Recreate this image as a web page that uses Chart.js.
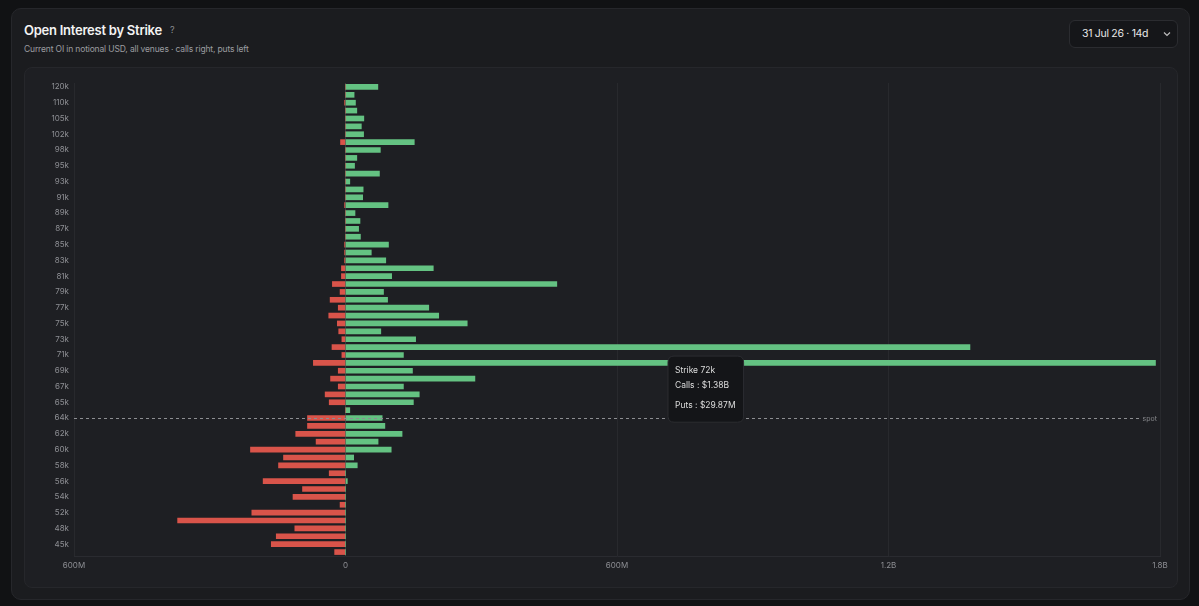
<!DOCTYPE html>
<html>
<head>
<meta charset="utf-8">
<script src="https://cdn.jsdelivr.net/npm/chart.js@4.4.1/dist/chart.umd.min.js"></script>
<style>
  html, body { margin: 0; padding: 0; }
  body {
    width: 1199px; height: 606px; overflow: hidden;
    background: #111214; font-family: Inter, "Noto Sans", sans-serif;
    position: relative;
  }
  .card {
    position: absolute; left: 11px; top: 8px; width: 1177px; height: 590px;
    background: #1b1c1f; border: 1px solid #26272b; border-radius: 10px;
  }
  .title {
    position: absolute; left: 24px; top: 21px; font-size: 13px; font-weight: 600;
    color: #f3f3f3; letter-spacing: -0.25px; line-height: 18px;
  }
  .help {
    position: absolute; left: 170px; top: 24px; font-size: 9px; color: #8a8b8f; line-height: 12px;
  }
  .subtitle {
    position: absolute; left: 24px; top: 43px; font-size: 8.5px; color: #9b9ca0; line-height: 12px;
    letter-spacing: -0.15px;
  }
  .select {
    position: absolute; left: 1069px; top: 20px; width: 107px; height: 26px;
    background: #151619; border: 1px solid #2b2c30; border-radius: 6px;
    color: #e8e8e8; font-size: 10.5px; line-height: 26px; letter-spacing: -0.3px;
  }
  .select span { position: absolute; left: 12px; top: 0; }
  .select svg { position: absolute; right: 6px; top: 10px; }
  .panel {
    position: absolute; left: 24px; top: 67px; width: 1152px; height: 519px;
    background: #1e1f23; border: 1px solid #26272b; border-radius: 8px;
  }
  #chart { position: absolute; left: 24px; top: 67px; }
</style>
</head>
<body>
<div class="card"></div>
<div class="title">Open Interest by Strike</div>
<div class="help">?</div>
<div class="subtitle">Current OI in notional USD, all venues · calls right, puts left</div>
<div class="select"><span>31 Jul 26 · 14d</span>
  <svg width="8" height="6" viewBox="0 0 8 6"><path d="M1 1.5 L4 4.5 L7 1.5" fill="none" stroke="#bdbdbd" stroke-width="1.2"/></svg>
</div>
<div class="panel"></div>
<canvas id="chart" width="1154" height="521"></canvas>
<script>
// strikes, top to bottom
const strikes = ["120k", "115k", "110k", "108k", "105k", "104k", "102k", "100k",
  "98k", "96k", "95k", "94k", "93k", "92k", "91k", "90k",
  "89k", "88k", "87k", "86k", "85k", "84k", "83k", "82k",
  "81k", "80k", "79k", "78k", "77k", "76k", "75k", "74k",
  "73k", "72k", "71k", "70k", "69k", "68k", "67k", "66k",
  "65k", "64.5k", "64k", "63k", "62k", "61k", "60k", "59k",
  "58k", "57k", "56k", "55k", "54k", "53k", "52k", "50k",
  "48k", "46k", "45k", "40k"];

// open interest, USD millions
const callsOI = [71.5, 19, 22, 25, 40.5, 35, 40, 152,
  77, 25, 20, 75, 9.5, 39, 38, 94,
  21, 32, 29, 33, 95, 57, 89, 194,
  102, 467, 84, 93, 184, 206, 269, 78,
  155, 1380, 128, 1790, 148, 286, 128, 163,
  150, 9.5, 81, 87, 125, 72, 101, 18,
  26, 0, 4, 0, 0, 0, 0, 0,
  0, 0, 0, 0];

const putsOI = [0, 0, 2, 0, 0, 0, 0, 11,
  0, 0, 0, 0, 0, 0, 0, 2,
  0, 0, 0, 0, 2, 2, 2, 9,
  9, 29, 12, 34, 16, 37, 18, 15,
  8, 29.87, 8, 71, 16, 33, 16, 45,
  36, 0, 84, 84, 110, 65, 210, 137,
  148, 36, 182, 95, 116, 12, 207, 371,
  112, 153, 164, 24];

const spotStrike = "64k";
const hoverStrike = "72k";

const xMin = -600, xMax = 1800, xStep = 600;

function fmtUsd(v) {
  v = Math.abs(v);
  if (v >= 1000) return (v / 1000).toFixed(2) + "B";
  return v.toFixed(2) + "M";
}

function fmtTick(v) {
  v = Math.abs(v);
  if (v === 0) return "0";
  if (v >= 1000) return (v / 1000) + "B";
  return v + "M";
}

Chart.defaults.font.family = "Inter, 'Noto Sans', sans-serif";
Chart.defaults.color = "#8e8f94";

// tooltip sits where the pointer is
Chart.Tooltip.positioners.pointer = function (items, pos) {
  return { x: pos.x, y: pos.y, xAlign: "left", yAlign: "top" };
};

// dashed spot line
const spotLine = {
  id: "spotLine",
  afterDatasetsDraw(chart) {
    const { ctx, chartArea, scales } = chart;
    const y = Math.round(scales.y.getPixelForValue(strikes.indexOf(spotStrike))) + 0.5;
    ctx.save();
    ctx.strokeStyle = "#8d8e92";
    ctx.lineWidth = 1;
    ctx.setLineDash([3, 3]);
    ctx.beginPath();
    ctx.moveTo(chartArea.left, y);
    ctx.lineTo(chartArea.right - 20, y);
    ctx.stroke();
    ctx.setLineDash([]);
    ctx.fillStyle = "#85868a";
    ctx.font = "7px Inter";
    ctx.textAlign = "right";
    ctx.textBaseline = "middle";
    ctx.fillText("spot", chartArea.right - 3, y);
    ctx.restore();
  }
};

const chart = new Chart(document.getElementById("chart"), {
  type: "bar",
  data: {
    labels: strikes,
    datasets: [
      {
        label: "Calls",
        data: callsOI,
        backgroundColor: "#64c282",
        grouped: false,
        barThickness: 5,
      },
      {
        label: "Puts",
        data: putsOI.map((v) => -v),
        backgroundColor: "#d9544a",
        grouped: false,
        barThickness: 5,
      },
    ],
  },
  options: {
    indexAxis: "y",
    responsive: false,
    animation: false,
    events: [],
    layout: { padding: { top: 16, right: 18, bottom: 0, left: 0 } },
    plugins: {
      legend: { display: false },
      tooltip: {
        position: "pointer",
        backgroundColor: "#141518",
        borderColor: "#2c2d31",
        borderWidth: 1,
        cornerRadius: 6,
        caretSize: 0,
        caretPadding: 0,
        displayColors: false,
        titleColor: "#dcdcdc",
        bodyColor: "#dcdcdc",
        titleFont: { size: 8.5, weight: "normal" },
        bodyFont: { size: 8.5 },
        titleMarginBottom: 5.5,
        bodySpacing: 9,
        padding: { top: 9, bottom: 12, left: 7, right: 8 },
        callbacks: {
          title: (items) => "Strike " + items[0].label,
          label: (c) => c.dataset.label + " : $" + fmtUsd(c.raw),
        },
      },
    },
    scales: {
      x: {
        min: xMin,
        max: xMax,
        ticks: {
          stepSize: xStep,
          padding: 5,
          font: { size: 8 },
          color: "#8e8f94",
          callback: (v) => fmtTick(v),
        },
        grid: {
          drawTicks: false,
          color: (c) => (c.tick && c.tick.value === 0 ? "#393a3f" : "#28292d"),
        },
        border: { display: true, color: "#2a2b30" },
        afterFit: (s) => { s.height = 32; },
      },
      y: {
        ticks: {
          autoSkip: false,
          padding: 5,
          font: { size: 8 },
          color: "#8e8f94",
          callback: function (v, i) { return i % 2 === 0 ? this.getLabelForValue(v) : ""; },
        },
        grid: { display: false, drawTicks: false },
        border: { display: false },
        afterFit: (s) => { s.width = 50; },
      },
    },
  },
  plugins: [spotLine],
});

// show the hover state on the 72k strike
const hi = strikes.indexOf(hoverStrike);
const ys = chart.scales.y, xs = chart.scales.x;
chart.tooltip.setActiveElements(
  [{ datasetIndex: 0, index: hi }, { datasetIndex: 1, index: hi }],
  { x: xs.getPixelForValue(xStep * 1.21), y: ys.getPixelForValue(hi) + 9 }
);
chart.update();
</script>
</body>
</html>
